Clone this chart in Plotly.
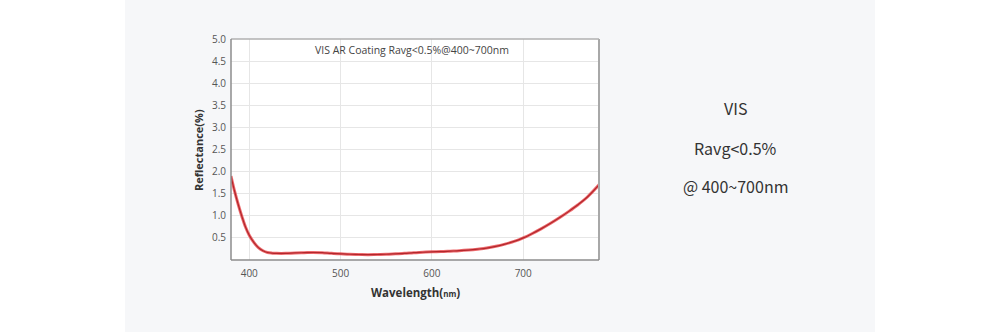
import plotly.graph_objects as go

# Reflectance spectrum of the visible AR coating
wavelength_nm = [380, 384, 388, 392, 396, 400, 405, 410, 415, 420, 425, 430, 440, 450,
                 460, 470, 480, 490, 500, 510, 520, 530, 540, 550, 560, 570, 580, 590,
                 600, 610, 620, 630, 640, 650, 660, 670, 680, 690, 700, 710, 720, 730,
                 740, 750, 760, 770, 783]
reflectance_pct = [1.90, 1.55, 1.25, 0.98, 0.74, 0.56, 0.40, 0.28, 0.21, 0.17, 0.155, 0.15,
                   0.15, 0.16, 0.165, 0.17, 0.165, 0.15, 0.14, 0.13, 0.125, 0.12, 0.125,
                   0.13, 0.14, 0.15, 0.165, 0.175, 0.185, 0.19, 0.20, 0.21, 0.225, 0.245,
                   0.27, 0.31, 0.36, 0.42, 0.50, 0.60, 0.71, 0.83, 0.96, 1.10, 1.25, 1.42,
                   1.70]

x_ticks = [400, 500, 600, 700]
y_ticks = [0.5, 1.0, 1.5, 2.0, 2.5, 3.0, 3.5, 4.0, 4.5, 5.0]
y_tick_labels = ["0.5", "1.0", "1.5", "2.0", "2.5", "3.0", "3.5", "4.0", "4.5", "5.0"]

chart_title = "VIS AR Coating Ravg<0.5%@400~700nm"
side_lines = ["VIS", "Ravg<0.5%", "@ 400~700nm"]

W, H = 1000, 332
L, R, T, B = 231, 401, 39, 72
pw, ph = W - L - R, H - T - B


def px_x(p):
    return (p - L) / pw


def px_y(p):
    return (H - B - p) / ph


fig = go.Figure()

# soft red halo and darker core of the curve
fig.add_trace(go.Scatter(x=wavelength_nm, y=reflectance_pct, mode="lines",
                         line=dict(color="rgba(232,70,74,0.8)", width=3.0, shape="spline"),
                         hoverinfo="skip", showlegend=False))
fig.add_trace(go.Scatter(x=wavelength_nm, y=reflectance_pct, mode="lines",
                         line=dict(color="#b3272c", width=1.2, shape="spline"),
                         showlegend=False))

panel = "#f6f7f9"
shapes = [
    # white page margins either side of the grey panel
    dict(type="rect", xref="paper", yref="paper", x0=px_x(0), x1=px_x(125),
         y0=px_y(H), y1=px_y(0), fillcolor="white", line_width=0, layer="below"),
    dict(type="rect", xref="paper", yref="paper", x0=px_x(875), x1=px_x(W),
         y0=px_y(H), y1=px_y(0), fillcolor="white", line_width=0, layer="below"),
    # frame: darker left/bottom, lighter top/right
    dict(type="line", xref="paper", yref="paper", x0=1, x1=1, y0=0, y1=1,
         line=dict(color="#a8a8a8", width=2)),
    dict(type="line", xref="paper", yref="paper", x0=0, x1=1, y0=1, y1=1,
         line=dict(color="#b0b0b0", width=1.5)),
    dict(type="line", xref="paper", yref="paper", x0=0, x1=0, y0=0, y1=1,
         line=dict(color="#8c8c8c", width=1.5)),
    dict(type="line", xref="paper", yref="paper", x0=0, x1=1, y0=0, y1=0,
         line=dict(color="#8c8c8c", width=1.5)),
]

annotations = [
    dict(text=chart_title, xref="paper", yref="paper", x=px_x(412), y=px_y(50),
         showarrow=False, xanchor="center", yanchor="middle",
         font=dict(family="Open Sans", size=10.5, color="#444")),
    dict(text="<b>Reflectance(%)</b>", xref="paper", yref="paper", x=px_x(198),
         y=px_y(150), showarrow=False, textangle=-90, xanchor="center", yanchor="middle",
         font=dict(family="Open Sans", size=11, color="#333")),
    dict(text="<b>Wavelength(<span style='font-size:8px'>nm</span>)</b>", xref="paper",
         yref="paper", x=px_x(415), y=px_y(292), showarrow=False,
         xanchor="center", yanchor="middle",
         font=dict(family="Open Sans", size=11.5, color="#333")),
]
for text, py in zip(side_lines, [108, 148, 186]):
    annotations.append(dict(text=text, xref="paper", yref="paper", x=px_x(735), y=px_y(py),
                            showarrow=False, xanchor="center", yanchor="middle",
                            font=dict(family="Noto Sans CJK SC", size=16, color="#333")))

fig.update_layout(
    width=W, height=H,
    margin=dict(l=L, r=R, t=T, b=B, pad=0),
    paper_bgcolor=panel, plot_bgcolor="white",
    shapes=shapes, annotations=annotations,
    xaxis=dict(range=[380, 783], tickvals=x_ticks, showgrid=True, gridcolor="#e6e6e6",
               gridwidth=1, zeroline=False, showline=False, ticks="",
               tickfont=dict(family="Open Sans", size=10, color="#555"), ticklabelstandoff=6),
    yaxis=dict(range=[0, 5], tickvals=y_ticks, ticktext=y_tick_labels, showgrid=True,
               gridcolor="#e6e6e6", gridwidth=1, zeroline=False, showline=False, ticks="",
               tickfont=dict(family="Open Sans", size=10, color="#555"), ticklabelstandoff=4),
)

fig.write_html("out.html")
